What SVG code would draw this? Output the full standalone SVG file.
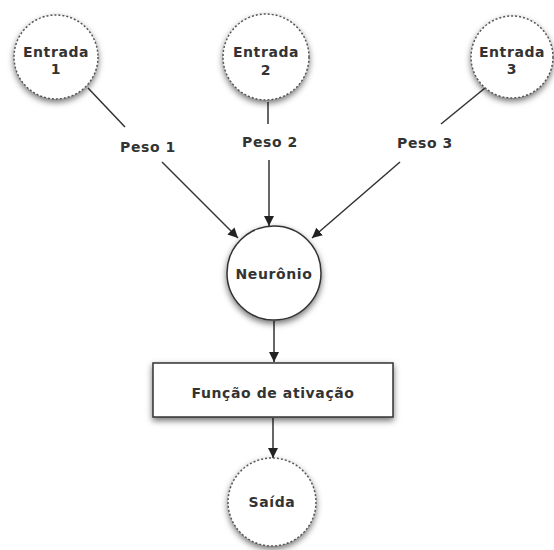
<svg xmlns="http://www.w3.org/2000/svg" width="554" height="550" viewBox="0 0 554 550">
<style>
text{font-family:"DejaVu Sans",sans-serif;font-weight:bold;font-size:14px;fill:#333;text-anchor:middle;letter-spacing:0.6px}
.dash{fill:#fff;stroke:#555;stroke-width:1.5;stroke-dasharray:2 2}
.solid{fill:#fff;stroke:#333;stroke-width:1.5}
.con{stroke:#333;stroke-width:1.5;fill:none}
</style>
<defs>
<filter id="sh" x="-30%" y="-30%" width="160%" height="170%">
<feDropShadow dx="0" dy="3" stdDeviation="3" flood-color="#000" flood-opacity="0.55"/>
</filter>
<marker id="ah" viewBox="0 0 10 10" refX="10" refY="5" markerWidth="10" markerHeight="10" markerUnits="userSpaceOnUse" orient="auto">
<path d="M0,0 L10,5 L0,10 Z" fill="#222"/>
</marker>
</defs>
<g id="connectors">
<line class="con" x1="88" y1="88" x2="125" y2="127"/>
<line class="con" x1="162" y1="162" x2="238" y2="238" marker-end="url(#ah)"/>
<line class="con" x1="268" y1="102" x2="268" y2="124"/>
<line class="con" x1="269" y1="160" x2="269" y2="226" marker-end="url(#ah)"/>
<line class="con" x1="485" y1="88" x2="441" y2="124"/>
<line class="con" x1="400" y1="162" x2="312" y2="238" marker-end="url(#ah)"/>
<line class="con" x1="274" y1="321" x2="274" y2="362" marker-end="url(#ah)"/>
<line class="con" x1="273" y1="418" x2="273" y2="458" marker-end="url(#ah)"/>
</g>
<g id="entrada1">
<circle class="dash" cx="56" cy="57" r="42" filter="url(#sh)"/>
<text x="56" y="57">Entrada</text>
<text x="56" y="74">1</text>
</g>
<g id="entrada2">
<circle class="dash" cx="266" cy="57" r="43" filter="url(#sh)"/>
<text x="266" y="57">Entrada</text>
<text x="266" y="75">2</text>
</g>
<g id="entrada3">
<circle class="dash" cx="512" cy="57" r="41" filter="url(#sh)"/>
<text x="512" y="57">Entrada</text>
<text x="512" y="74">3</text>
</g>
<g id="peso1"><text x="148" y="152">Peso 1</text></g>
<g id="peso2"><text x="270" y="147">Peso 2</text></g>
<g id="peso3"><text x="425" y="148">Peso 3</text></g>
<g id="neuronio">
<circle class="solid" cx="274" cy="273" r="47" filter="url(#sh)"/>
<text x="274" y="279">Neurônio</text>
</g>
<g id="funcao">
<rect class="solid" x="153" y="363" width="240" height="54" filter="url(#sh)"/>
<text x="273" y="398">Função de ativação</text>
</g>
<g id="saida">
<circle class="dash" cx="272" cy="502" r="44" filter="url(#sh)"/>
<text x="272" y="507">Saída</text>
</g>
</svg>
